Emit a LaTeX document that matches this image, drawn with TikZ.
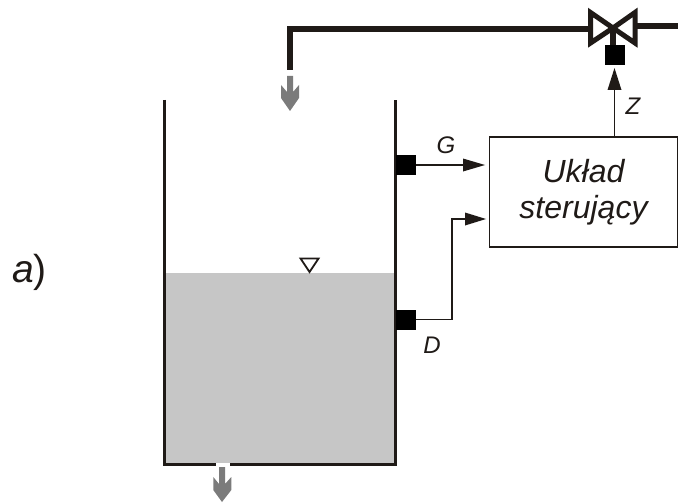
\documentclass[tikz,border=0pt]{standalone}
\usepackage{fontspec}
\setmainfont{Liberation Sans}
\usetikzlibrary{calc}
\definecolor{ink}{HTML}{1F1A17}
\definecolor{water}{HTML}{C6C6C6}
\definecolor{flow}{HTML}{7B7B7B}
\tikzset{
  wall/.style={draw=ink,line width=3pt},
  pipe/.style={draw=ink,line width=6pt},
  sensor/.style={fill=black,draw=none,minimum width=20pt,minimum height=20pt,inner sep=0pt},
  signal/.style={draw=ink,line width=1.6pt},
  head/.style={fill=ink,draw=none},
  flowarrow/.style={fill=flow,draw=none},
  lbl/.style={text=ink,font=\fontsize{24}{28}\selectfont\itshape,inner sep=0pt},
  ctrl/.style={draw=ink,line width=1.8pt,fill=white,minimum width=188pt,minimum height=110pt,inner sep=0pt,align=center,text=ink,font=\fontsize{32}{36}\selectfont\itshape},
  valve/.style={draw=ink,line width=5pt,fill=white,miter limit=10}
}
\begin{document}
\begin{tikzpicture}[x=1pt,y=-1pt]
\useasboundingbox (0,0) rectangle (678,503);
% water
\fill[water] (165,273) rectangle (394,463);
% tank
\draw[wall,line cap=butt,line join=miter] (164.5,100) -- (164.5,464.5) -- (216,464.5);
\draw[wall,line cap=butt,line join=miter] (230,464.5) -- (395,464.5) -- (395,100);
% level marker
\draw[draw=ink,line width=1.8pt,line join=miter] (300.5,258.5) -- (318.5,258.5) -- (309.5,272) -- cycle;
% pipes
\coordinate (pipeend) at (290,70);
\coordinate (pipecorner) at (290,29);
\coordinate (valveL) at (591,29);
\coordinate (valveR) at (636,26);
\coordinate (pipeexit) at (678,26);
\draw[pipe,line join=miter] (pipeend) -- (pipecorner) -- (valveL);
\draw[pipe] (valveR) -- (pipeexit);
% valve
\coordinate (valveC) at (613,28);
\draw[valve] (valveC) -- (590.5,12.5) -- (590.5,43) -- cycle;
\draw[valve] (valveC) -- (635,12.5) -- (635,43) -- cycle;
\node[sensor] (act) at (615,55) {};
\draw[pipe] (valveC) -- (act.north -| valveC);
% flow arrows
\fill[flowarrow] (287,76) -- (293,76) -- (293,92) -- (299,85) -- (299,98) -- (290,111) -- (281,98) -- (281,85) -- (287,92) -- cycle;
\fill[flowarrow] (219,467) -- (225,467) -- (225,484) -- (231.3,477) -- (231.3,490) -- (222,502) -- (213.3,490) -- (213.3,477) -- (219,484) -- cycle;
% controller
\node[ctrl] (box) at (583.5,192) {Układ\\sterujący};
% sensors
\node[sensor] (G) at (405.5,165) {};
\node[sensor] (D) at (405.5,319.5) {};
% signals
\coordinate (gtip) at (485,165);
\coordinate (dtip) at (486,219);
\coordinate (dknee) at (452,319.5);
\draw[signal] (G.east) -- ($(gtip)+(-20,0)$);
\fill[head] (gtip) -- (463,158.5) -- (463,171.5) -- cycle;
\draw[signal] (D.east) -- (dknee) -- (dknee |- dtip) -- ($(dtip)+(-20,0)$);
\fill[head] (dtip) -- (465,212.5) -- (465,225.5) -- cycle;
\coordinate (ztip) at (614.5,68);
\draw[signal] (ztip |- box.north) -- ($(ztip)+(0,20)$);
\fill[head] (ztip) -- (607.5,90) -- (621.5,90) -- cycle;
% labels
\node[lbl] (labG) at (446,145) {G};
\node[lbl] (labD) at (432,345) {D};
\node[lbl] (labZ) at (633,106) {Z};
\node[text=ink,inner sep=0pt,font=\fontsize{39}{44}\selectfont] (laba) at (29.5,272) {\textit{a})};
\end{tikzpicture}
\end{document}
